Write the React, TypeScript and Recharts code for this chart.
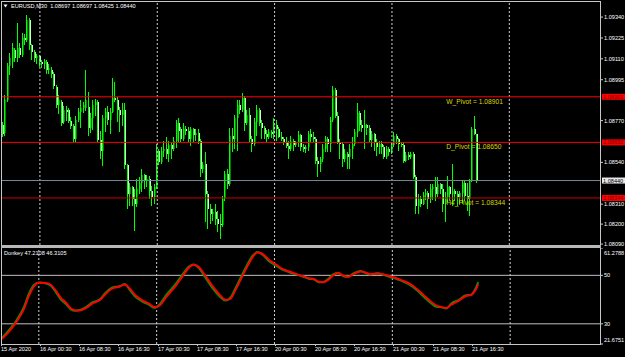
import React from 'react';
import { ComposedChart, Bar, Line, XAxis, YAxis, ReferenceLine, ReferenceDot } from 'recharts';

// ---------- data ----------
const SYMBOL = 'EURUSD,M30';
const LAST_OHLC = [1.08697, 1.08697, 1.08425, 1.0844];

const OPEN = [
  1.08748, 1.08699, 1.08885, 1.09071, 1.09093, 1.09159, 1.09115, 1.0917, 1.09132, 1.09225,
  1.09214, 1.09323, 1.09187, 1.09148, 1.09115, 1.09126, 1.09093, 1.09082, 1.09093, 1.09049,
  1.09049, 1.09027, 1.08957, 1.08858, 1.08874, 1.08764, 1.0883, 1.0883, 1.0877, 1.08742,
  1.08666, 1.08775, 1.08819, 1.08841, 1.08841, 1.08847, 1.08731, 1.08786, 1.08858, 1.08874,
  1.08661, 1.086, 1.08786, 1.08819, 1.08775, 1.08819, 1.08896, 1.08885, 1.0883, 1.08803,
  1.0883, 1.08523, 1.08365, 1.08403, 1.08337, 1.0831, 1.08392, 1.08425, 1.08468, 1.08436,
  1.08447, 1.08381, 1.08348, 1.08403, 1.086, 1.0854, 1.086, 1.08611, 1.08584, 1.08633,
  1.08611, 1.08655, 1.08759, 1.08721, 1.08666, 1.08721, 1.0871, 1.08666, 1.08721, 1.08688,
  1.08699, 1.08655, 1.08501, 1.08529, 1.08365, 1.08282, 1.08255, 1.08266, 1.08227, 1.082,
  1.08194, 1.08337, 1.08474, 1.0842, 1.08683, 1.08666, 1.08786, 1.08858, 1.0883, 1.08896,
  1.08759, 1.08803, 1.08666, 1.08639, 1.08764, 1.0883, 1.08759, 1.08731, 1.08694, 1.08677,
  1.08705, 1.08694, 1.08748, 1.08721, 1.08677, 1.08666, 1.0865, 1.08628, 1.08611, 1.08655,
  1.08633, 1.08644, 1.08688, 1.08622, 1.08611, 1.08622, 1.08694, 1.08677, 1.08666, 1.08545,
  1.08529, 1.08556, 1.08611, 1.08666, 1.08639, 1.08775, 1.0894, 1.08797, 1.08644, 1.08639,
  1.08556, 1.08584, 1.08567, 1.08611, 1.08639, 1.08705, 1.08814, 1.08748, 1.08731, 1.08748,
  1.08731, 1.08661, 1.08694, 1.0865, 1.08622, 1.08639, 1.08622, 1.08567, 1.08611, 1.08595,
  1.08633, 1.08683, 1.08666, 1.08639, 1.08633, 1.08545, 1.08578, 1.08567, 1.08584, 1.08457,
  1.08299, 1.08337, 1.0831, 1.08359, 1.0837, 1.08337, 1.08392, 1.08403, 1.08365, 1.0842,
  1.08392, 1.0831, 1.08348, 1.08403, 1.08365, 1.08381, 1.08365, 1.08348, 1.0837, 1.08425,
  1.08354, 1.08337, 1.08436, 1.08721, 1.08697,
];
const HIGH = [
  1.08764, 1.08913, 1.09088, 1.09143, 1.09198, 1.0917, 1.09307, 1.09198, 1.09253, 1.09247,
  1.09351, 1.09334, 1.09192, 1.09159, 1.09137, 1.09132, 1.09104, 1.0911, 1.09104, 1.09082,
  1.09066, 1.09038, 1.08968, 1.08913, 1.08885, 1.08852, 1.08852, 1.08841, 1.08792, 1.08753,
  1.08797, 1.08841, 1.08885, 1.08874, 1.09049, 1.08929, 1.08814, 1.08885, 1.08891, 1.08885,
  1.0871, 1.08803, 1.08841, 1.08852, 1.08841, 1.09005, 1.08984, 1.08902, 1.08847, 1.08869,
  1.08869, 1.08529, 1.08425, 1.08409, 1.08392, 1.08447, 1.08457, 1.08501, 1.08474, 1.08468,
  1.08463, 1.08409, 1.0842, 1.08639, 1.08611, 1.08622, 1.08655, 1.08677, 1.08655, 1.0865,
  1.08677, 1.08775, 1.08786, 1.08737, 1.08759, 1.08742, 1.08737, 1.08737, 1.08731, 1.08721,
  1.08721, 1.08666, 1.0854, 1.08595, 1.08381, 1.0831, 1.08282, 1.0831, 1.08271, 1.08255,
  1.08354, 1.0849, 1.08501, 1.08731, 1.08731, 1.08803, 1.08885, 1.08885, 1.08924, 1.08907,
  1.0883, 1.08841, 1.08683, 1.08786, 1.08858, 1.08841, 1.08775, 1.08742, 1.08716, 1.08721,
  1.08716, 1.08786, 1.08775, 1.08737, 1.08705, 1.08677, 1.08677, 1.08655, 1.08683, 1.08666,
  1.08655, 1.0871, 1.08694, 1.08639, 1.08633, 1.0871, 1.08721, 1.08705, 1.08677, 1.08567,
  1.08567, 1.08639, 1.08683, 1.08677, 1.08792, 1.08962, 1.08951, 1.08819, 1.08666, 1.0865,
  1.08611, 1.08595, 1.08639, 1.08677, 1.08721, 1.08869, 1.08825, 1.08775, 1.0883, 1.08753,
  1.08748, 1.0871, 1.08699, 1.08666, 1.08655, 1.08655, 1.08633, 1.08628, 1.08622, 1.0865,
  1.08705, 1.08694, 1.08672, 1.0865, 1.0865, 1.08595, 1.08595, 1.08595, 1.08595, 1.08468,
  1.08365, 1.08354, 1.08376, 1.08392, 1.08381, 1.0842, 1.0842, 1.08457, 1.08457, 1.08425,
  1.0842, 1.08376, 1.08463, 1.08409, 1.08529, 1.08392, 1.08381, 1.08381, 1.08436, 1.08436,
  1.08425, 1.08447, 1.08737, 1.08797, 1.08697,
];
const LOW = [
  1.08677, 1.08683, 1.08874, 1.09022, 1.0906, 1.09093, 1.09093, 1.09115, 1.09121, 1.09187,
  1.09203, 1.09159, 1.09104, 1.09093, 1.09082, 1.09066, 1.0906, 1.09055, 1.09027, 1.09027,
  1.09005, 1.08946, 1.08841, 1.08808, 1.08742, 1.08753, 1.0877, 1.08759, 1.08721, 1.0865,
  1.08644, 1.08764, 1.08731, 1.08814, 1.08825, 1.08683, 1.08699, 1.08716, 1.08797, 1.0865,
  1.08556, 1.08518, 1.08705, 1.08748, 1.08694, 1.08814, 1.08874, 1.08764, 1.08705, 1.08742,
  1.08501, 1.08282, 1.08299, 1.08299, 1.08162, 1.08293, 1.08365, 1.08376, 1.08392, 1.08403,
  1.08337, 1.08299, 1.0831, 1.08392, 1.08523, 1.08529, 1.08567, 1.08556, 1.0854, 1.08556,
  1.086, 1.08617, 1.0865, 1.0865, 1.08655, 1.08688, 1.0865, 1.08628, 1.0865, 1.08655,
  1.08639, 1.08457, 1.08479, 1.08211, 1.08173, 1.082, 1.08216, 1.08194, 1.08157, 1.08118,
  1.08183, 1.08326, 1.08392, 1.08409, 1.08595, 1.08611, 1.086, 1.08808, 1.08819, 1.0871,
  1.08748, 1.0865, 1.08595, 1.08628, 1.08683, 1.08742, 1.08666, 1.08666, 1.0865, 1.08666,
  1.08672, 1.08666, 1.08655, 1.08672, 1.08655, 1.08633, 1.08617, 1.08556, 1.086, 1.086,
  1.08622, 1.08622, 1.086, 1.08595, 1.08589, 1.086, 1.0865, 1.0865, 1.08529, 1.08457,
  1.08485, 1.0854, 1.08595, 1.08595, 1.08595, 1.08764, 1.08786, 1.08639, 1.08556, 1.08512,
  1.0854, 1.08501, 1.08501, 1.08556, 1.08628, 1.08677, 1.0871, 1.08705, 1.08611, 1.08688,
  1.0865, 1.08622, 1.086, 1.08573, 1.08584, 1.08584, 1.08556, 1.08556, 1.08573, 1.08584,
  1.08622, 1.08639, 1.086, 1.08622, 1.08534, 1.0854, 1.08551, 1.08556, 1.08447, 1.08255,
  1.08255, 1.08293, 1.08304, 1.08332, 1.08282, 1.08315, 1.08332, 1.08326, 1.08348, 1.08365,
  1.08266, 1.08211, 1.08321, 1.08326, 1.08299, 1.08326, 1.08299, 1.0831, 1.0831, 1.08326,
  1.08271, 1.08244, 1.08431, 1.08688, 1.08425,
];
const CLOSE = [
  1.08694, 1.08885, 1.09071, 1.09115, 1.0917, 1.09115, 1.0917, 1.09132, 1.09225, 1.09214,
  1.09323, 1.09187, 1.09148, 1.09115, 1.09126, 1.09093, 1.09082, 1.09099, 1.09049, 1.0906,
  1.09027, 1.08962, 1.08858, 1.08885, 1.08759, 1.0883, 1.08819, 1.0877, 1.08742, 1.08666,
  1.08775, 1.08819, 1.08841, 1.08858, 1.08885, 1.08731, 1.08786, 1.08858, 1.08874, 1.08661,
  1.086, 1.08786, 1.08819, 1.08775, 1.08819, 1.08896, 1.08885, 1.0883, 1.08803, 1.0883,
  1.08523, 1.08365, 1.08403, 1.08337, 1.0831, 1.08392, 1.08425, 1.08468, 1.08436, 1.08447,
  1.08381, 1.08348, 1.08403, 1.086, 1.0854, 1.086, 1.08611, 1.08584, 1.08633, 1.08611,
  1.08655, 1.08759, 1.0871, 1.08666, 1.08721, 1.0871, 1.08666, 1.08721, 1.08688, 1.08699,
  1.08655, 1.08501, 1.08523, 1.08365, 1.08282, 1.08255, 1.08266, 1.08227, 1.082, 1.08194,
  1.08337, 1.08474, 1.0842, 1.08683, 1.08666, 1.08786, 1.08858, 1.0883, 1.08896, 1.08759,
  1.08803, 1.08666, 1.08639, 1.08764, 1.0883, 1.08759, 1.08731, 1.08694, 1.08677, 1.08705,
  1.08694, 1.08748, 1.08721, 1.08677, 1.08666, 1.0865, 1.08628, 1.08611, 1.08655, 1.08633,
  1.08644, 1.08688, 1.08622, 1.08611, 1.08622, 1.08694, 1.08677, 1.08666, 1.08545, 1.08529,
  1.08556, 1.08611, 1.08666, 1.08639, 1.08775, 1.0894, 1.08797, 1.08644, 1.08639, 1.08556,
  1.08584, 1.08567, 1.08611, 1.08639, 1.08705, 1.08814, 1.08748, 1.08731, 1.08748, 1.08731,
  1.08661, 1.08694, 1.0865, 1.08622, 1.08639, 1.08622, 1.08567, 1.08611, 1.08595, 1.08633,
  1.08683, 1.08666, 1.08639, 1.08633, 1.08545, 1.08578, 1.08567, 1.08584, 1.08457, 1.08299,
  1.08337, 1.0831, 1.08359, 1.0837, 1.08337, 1.08392, 1.08403, 1.08365, 1.0842, 1.08392,
  1.0831, 1.08348, 1.08403, 1.08365, 1.08381, 1.08365, 1.08348, 1.0837, 1.08425, 1.08354,
  1.08337, 1.08436, 1.08721, 1.08697, 1.0844,
];

const SLOT_COUNT = 245; // bars plus the empty chart shift on the right
const TIME_TICK_BARS = [0, 16, 32, 48, 64, 80, 96, 112, 128, 144, 160, 176, 192];
const TIME_TICK_LABELS = [
  '15 Apr 2020', '16 Apr 00:30', '16 Apr 08:30', '16 Apr 16:30', '17 Apr 00:30', '17 Apr 08:30',
  '17 Apr 16:30', '20 Apr 00:30', '20 Apr 08:30', '20 Apr 16:30', '21 Apr 00:30', '21 Apr 08:30',
  '21 Apr 16:30',
];
const DAY_SEPARATOR_BARS = [15, 63, 111, 159, 207];
const PRICE_TICKS = [1.0934, 1.09225, 1.0911, 1.08995, 1.0877, 1.0854, 1.0831, 1.082, 1.0809];
const PRICE_DOMAIN = [1.08085, 1.09423];

const PIVOT_NAMES = ['W_Pivot', 'D_Pivot', 'H4_Pivot'];
const PIVOT_VALUES = [1.08901, 1.0865, 1.08344];
const PIVOT_LABEL_BAR = 181;
const BID = 1.0844;

const OSC_NAME = 'Donkey';
const OSC_BARS = [
  0, 3, 6, 9, 11, 13, 15, 18, 20, 22, 24, 26, 28, 30, 32, 34, 37, 40, 42, 45, 48, 50, 52, 54, 57,
  60, 62, 64, 67, 71, 74, 76, 78, 80, 83, 86, 89, 91, 93, 95, 97, 100, 102, 104, 106, 109, 112,
  114, 117, 120, 123, 125, 127, 129, 131, 133, 135, 137, 139, 141, 143, 146, 148, 150, 153, 155,
  158, 161, 163, 166, 169, 172, 175, 177, 179, 181, 183, 186, 189, 191, 193, 194,
];
const OSC_MAIN = [
  24.2, 27.6, 31.6, 37.1, 42.5, 46.0, 47.0, 46.6, 45.6, 43.0, 40.0, 38.2, 36.0, 35.4, 35.8, 36.8,
  38.9, 40.2, 42.6, 45.0, 45.5, 46.4, 44.0, 41.5, 39.3, 37.8, 36.6, 37.8, 42.0, 46.8, 51.0, 53.5,
  54.5, 53.2, 48.8, 44.4, 41.0, 39.6, 40.8, 44.5, 48.6, 54.6, 58.0, 59.6, 58.6, 55.6, 53.8, 52.5,
  51.3, 50.3, 49.3, 48.6, 48.4, 47.2, 47.3, 48.6, 50.5, 51.0, 49.6, 49.4, 50.7, 51.8, 51.0, 50.3,
  50.9, 50.3, 49.3, 48.4, 47.6, 46.2, 43.9, 41.0, 38.3, 37.0, 36.8, 36.3, 38.4, 39.8, 41.8, 41.9,
  44.8, 47.2108,
];
const OSC_SIGNAL = [
  23.8, 27.0, 31.0, 36.3, 41.6, 45.4, 46.9, 46.8, 46.0, 43.6, 40.6, 38.8, 36.4, 35.5, 35.6, 36.4,
  38.5, 39.9, 42.1, 44.6, 45.4, 46.2, 44.6, 42.1, 39.8, 38.2, 36.9, 37.4, 41.2, 46.0, 50.3, 53.0,
  54.4, 53.6, 49.6, 45.2, 41.6, 39.9, 40.3, 43.7, 47.8, 53.8, 57.4, 59.4, 58.9, 56.2, 54.2, 52.8,
  51.6, 50.5, 49.5, 48.8, 48.5, 47.4, 47.2, 48.2, 50.1, 51.0, 49.9, 49.4, 50.4, 51.6, 51.2, 50.5,
  50.8, 50.5, 49.6, 48.7, 47.9, 46.6, 44.4, 41.6, 38.9, 37.5, 37.0, 36.5, 37.9, 39.5, 41.5, 41.9,
  44.2, 46.3105,
];
const OSC_DOMAIN = [21.6751, 61.2788];
const OSC_LEVELS = [50, 30];
const OSC_TICKS = [21.6751, 30, 50, 61.2788];

// ---------- tables built for the library ----------
const mainData = Array.from({ length: SLOT_COUNT }, (_, i) =>
  i < OPEN.length
    ? { idx: i, range: [LOW[i], HIGH[i]], o: OPEN[i], h: HIGH[i], l: LOW[i], c: CLOSE[i] }
    : { idx: i }
);
const oscData: any[] = Array.from({ length: SLOT_COUNT }, (_, i) => ({ idx: i }));
OSC_BARS.forEach((b, k) => {
  oscData[b].main = OSC_MAIN[k];
  oscData[b].signal = OSC_SIGNAL[k];
});

// ---------- styling ----------
const FONT = 'Liberation Sans, Arial, sans-serif';
const FRAME = '#c8c8c8';
const WICK = '#00ff00';
const BULL_BODY = '#008000';
const BEAR_BODY = '#c8ffc8';

const Candle = (p: any) => {
  const { x, y, width, height, payload } = p;
  if (!payload || payload.h == null) return <g />;
  const top = Math.min(y, y + height);
  const span = Math.abs(height);
  const k = span / (payload.h - payload.l);
  const col = Math.round(x + width / 2);
  const yo = top + (payload.h - payload.o) * k;
  const yc = top + (payload.h - payload.c) * k;
  const bTop = Math.min(yo, yc);
  const bH = Math.max(Math.abs(yc - yo), 1);
  const bull = payload.c > payload.o;
  return (
    <g>
      <rect x={col - 1} y={bTop} width={2} height={bH} fill={bull ? BULL_BODY : BEAR_BODY} shapeRendering="crispEdges" />
      <line x1={col - 0.5} x2={col - 0.5} y1={top} y2={top + span} stroke={WICK} strokeWidth={1} shapeRendering="crispEdges" />
    </g>
  );
};

const PriceTag = (props: any) => {
  const { viewBox, text, fill, color } = props;
  if (!viewBox) return null;
  const right = viewBox.x + viewBox.width;
  const y = viewBox.y;
  return (
    <g>
      <rect x={right + 1} y={y - 3} width={24} height={6} fill={fill} />
      <text x={right + 2} y={y + 2} fontSize={5.6} fontFamily={FONT} fill={color}>{text}</text>
    </g>
  );
};

const PivotText = (props: any) => {
  const { viewBox, text } = props;
  if (!viewBox) return null;
  return (
    <text x={viewBox.x + 0.5} y={viewBox.y + 7} fontSize={6.7} fontFamily={FONT} fill="#d8d800">{text}</text>
  );
};

const TimeTick = (props: any) => {
  const { x, y, payload } = props;
  const k = TIME_TICK_BARS.indexOf(payload.value);
  if (k < 0) return <g />;
  const tx = Math.round(x - 1.5) + 0.5;
  return (
    <g>
      <line x1={tx} x2={tx} y1={y} y2={y + 2} stroke={FRAME} strokeWidth={1} />
      <text x={tx - 0.5} y={y + 6.8} fontSize={5.6} fontFamily={FONT} fill="#ffffff">{TIME_TICK_LABELS[k]}</text>
    </g>
  );
};

const OscTick = (props: any) => {
  const { x, y, payload } = props;
  const v = payload.value;
  let dy = 2;
  if (v === OSC_DOMAIN[1]) dy = 6.5;
  if (v === OSC_DOMAIN[0]) dy = -2;
  const label = Number.isInteger(v) ? String(v) : v.toFixed(4);
  return (
    <text x={x} y={y + dy} fontSize={5.6} fontFamily={FONT} fill="#ffffff">{label}</text>
  );
};

const PriceTick = (props: any) => {
  const { x, y, payload } = props;
  return (
    <text x={x} y={y + 2} fontSize={5.6} fontFamily={FONT} fill="#ffffff">{payload.value.toFixed(5)}</text>
  );
};

export default function App() {
  return (
    <div style={{ position: 'absolute', left: 0, top: 0, width: 625, height: 357, background: '#000', overflow: 'hidden' }}>
      <div style={{ position: 'absolute', left: 0, top: 0 }}>
        <ComposedChart width={625} height={247} data={mainData} margin={{ top: 2, right: 0, bottom: 2, left: 2 }} barCategoryGap={0}>
          <XAxis dataKey="idx" type="category" hide />
          <YAxis
            orientation="right"
            width={24}
            type="number"
            domain={PRICE_DOMAIN}
            allowDataOverflow
            ticks={PRICE_TICKS}
            interval={0}
            axisLine={false}
            tickLine={{ stroke: FRAME }}
            tickSize={2}
            tickMargin={1}
            tick={<PriceTick />}
          />
          {PIVOT_NAMES.map((n, k) => (
            <ReferenceDot key={n} x={PIVOT_LABEL_BAR} y={PIVOT_VALUES[k]} r={0} fill="none" stroke="none"
              label={<PivotText text={`${n} = ${PIVOT_VALUES[k].toFixed(5)}`} />} />
          ))}
          {DAY_SEPARATOR_BARS.map((b) => (
            <ReferenceLine key={b} x={b} stroke="#d0d0d0" strokeDasharray="2 2" />
          ))}
          <Bar dataKey="range" isAnimationActive={false} shape={<Candle />} />
          <ReferenceLine y={BID} stroke="#778899" label={<PriceTag text={BID.toFixed(5)} fill="#e8e8e8" color="#000000" />} />
          <ReferenceLine y={PIVOT_VALUES[2]} stroke="#c80000" label={<PriceTag text={PIVOT_VALUES[2].toFixed(5)} fill="#ff0000" color="#800000" />} />
          <ReferenceLine y={PIVOT_VALUES[1]} stroke="#ff0000" label={<PriceTag text={PIVOT_VALUES[1].toFixed(5)} fill="#ff0000" color="#800000" />} />
          <ReferenceLine y={PIVOT_VALUES[0]} stroke="#ff0000" label={<PriceTag text={PIVOT_VALUES[0].toFixed(5)} fill="#ff0000" color="#800000" />} />
        </ComposedChart>
      </div>
      <div style={{ position: 'absolute', left: 0, top: 248 }}>
        <ComposedChart width={625} height={109} data={oscData} margin={{ top: 0, right: 0, bottom: 0, left: 2 }}>
          <XAxis dataKey="idx" type="category" interval={0} height={13} axisLine={false} tickLine={false}
            tickSize={0} tickMargin={0} tick={<TimeTick />} />
          <YAxis
            orientation="right"
            width={24}
            type="number"
            domain={OSC_DOMAIN}
            allowDataOverflow
            ticks={OSC_TICKS}
            interval={0}
            axisLine={false}
            tickLine={{ stroke: FRAME }}
            tickSize={2}
            tickMargin={1}
            tick={<OscTick />}
          />
          {OSC_LEVELS.map((v) => (
            <ReferenceLine key={v} y={v} stroke="#c0c0c0" />
          ))}
          {DAY_SEPARATOR_BARS.map((b) => (
            <ReferenceLine key={b} x={b} stroke="#d0d0d0" strokeDasharray="2 2" />
          ))}
          <Line dataKey="main" type="monotone" stroke="#009600" strokeWidth={2} dot={false} connectNulls isAnimationActive={false} />
          <Line dataKey="signal" type="monotone" stroke="#ff0000" strokeWidth={2} dot={false} connectNulls isAnimationActive={false} />
        </ComposedChart>
      </div>
      <svg width={625} height={357} style={{ position: 'absolute', left: 0, top: 0, pointerEvents: 'none' }}>
        <line x1={1.5} x2={1.5} y1={1} y2={345} stroke={FRAME} />
        <line x1={1} x2={601} y1={1.5} y2={1.5} stroke={FRAME} />
        <line x1={600.5} x2={600.5} y1={1} y2={345} stroke={FRAME} />
        <rect x={1} y={245} width={600} height={3} fill="#b8b8b8" />
        <line x1={1} x2={601} y1={344.5} y2={344.5} stroke={FRAME} />
        <path d="M3.5 4.5 L7.5 4.5 L5.5 7.5 Z" fill="#ffffff" />
        <text x={11} y={8} fontSize={5.6} fontFamily={FONT} fill="#ffffff" xmlSpace="preserve">
          {`${SYMBOL}  ${LAST_OHLC.map((v) => v.toFixed(5)).join(' ')}`}
        </text>
        <text x={4} y={255} fontSize={5.6} fontFamily={FONT} fill="#ffffff">
          {`${OSC_NAME} ${OSC_MAIN[OSC_MAIN.length - 1].toFixed(4)} ${OSC_SIGNAL[OSC_SIGNAL.length - 1].toFixed(4)}`}
        </text>
      </svg>
    </div>
  );
}
